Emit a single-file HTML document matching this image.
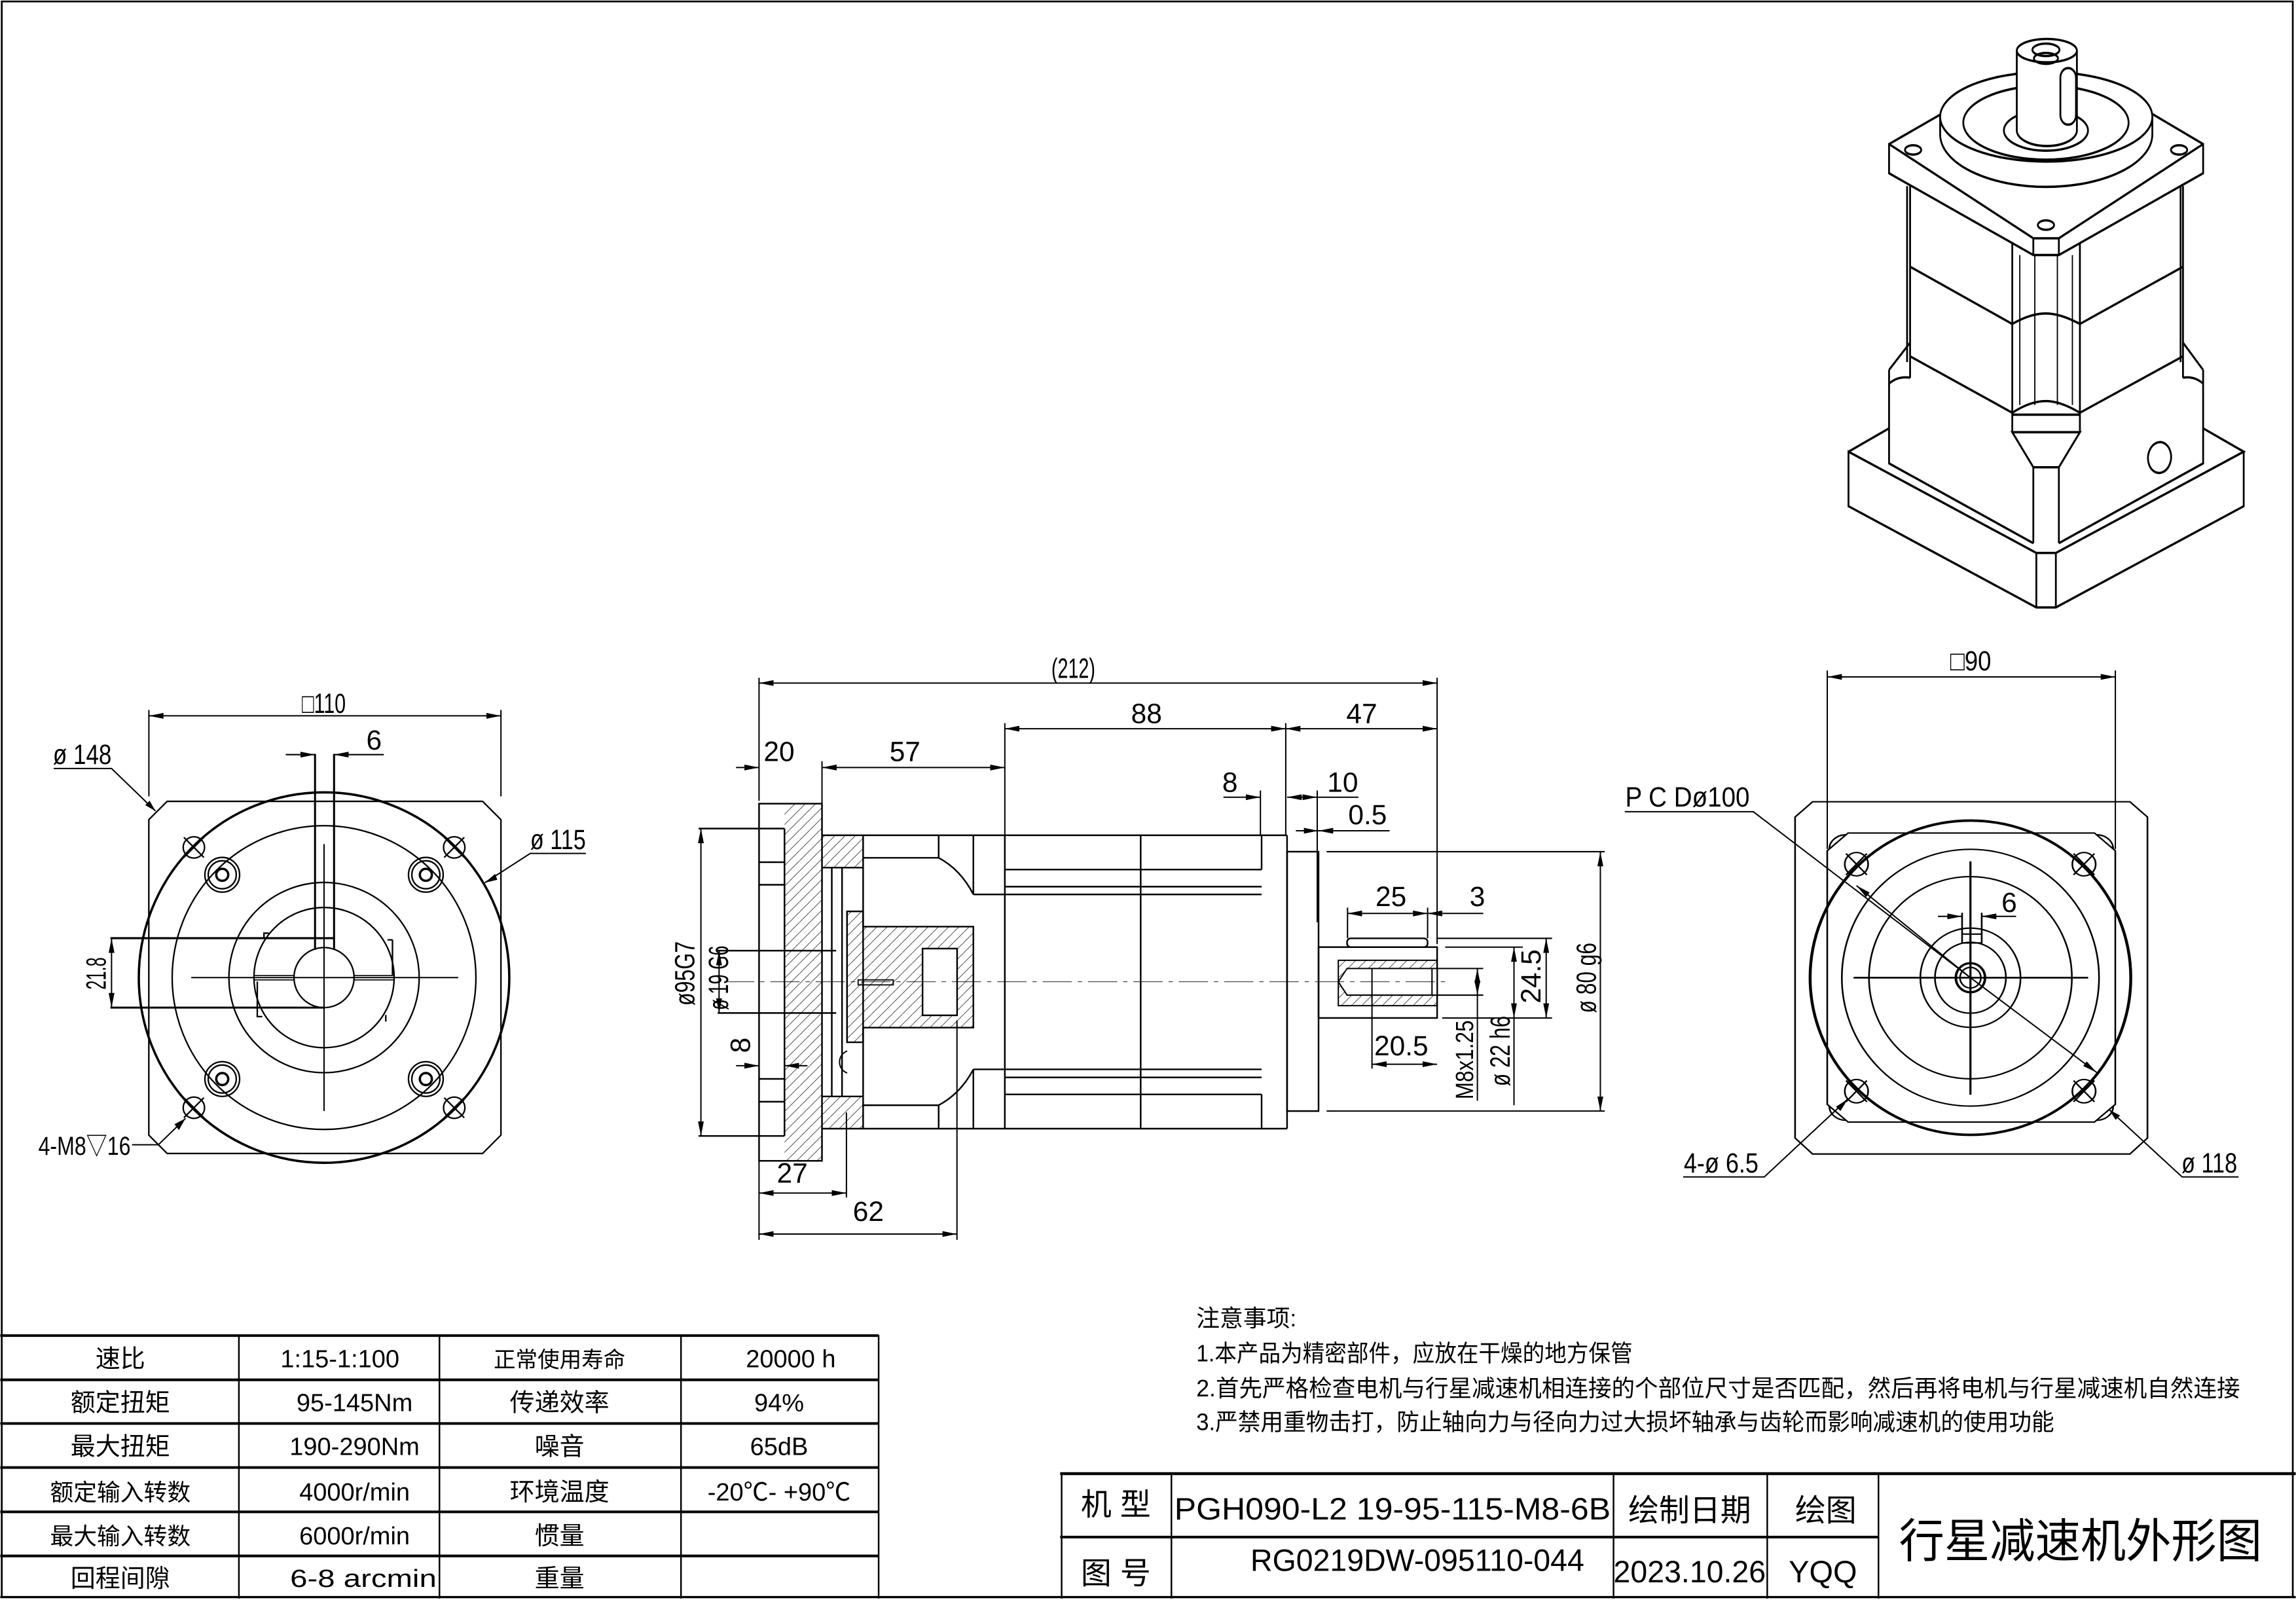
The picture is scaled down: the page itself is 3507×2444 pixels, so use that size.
<!DOCTYPE html>
<html><head><meta charset="utf-8"><style>
html,body{margin:0;padding:0;background:#fff}
svg{display:block}
text{font-family:"Liberation Sans","Noto Sans CJK SC",sans-serif;fill:#000}
</style></head><body>
<svg width="3507" height="2444" viewBox="0 0 1568 1093" xmlns="http://www.w3.org/2000/svg">
<defs>
<marker id="a" markerWidth="10" markerHeight="4" refX="10" refY="2" orient="auto-start-reverse" markerUnits="userSpaceOnUse"><path d="M0,0 L10,2 L0,4 Z" fill="#000"/></marker>
<pattern id="h" patternUnits="userSpaceOnUse" width="7" height="7"><path d="M0,7 L7,0" stroke="#000" stroke-width="0.3"/></pattern>
</defs>
<rect x="0" y="0" width="1568" height="1093" fill="#fff"/>
<rect x="1" y="1" width="1565" height="1090" fill="none" stroke="#000" stroke-width="1.2"/>

<!-- ========== LEFT VIEW (zoom coords) ========== -->
<g transform="translate(0,447.1) scale(0.228)" fill="none" stroke="#000" stroke-width="4.5">
<path d="M445,495 L500,440 L1445,440 L1500,495 L1500,1440 L1445,1495 L500,1495 L445,1440 Z"/>
<circle cx="970" cy="968" r="555" stroke-width="7"/>
<circle cx="970" cy="968" r="455"/>
<circle cx="970" cy="968" r="285"/>
<circle cx="970" cy="968" r="210"/>
<circle cx="970" cy="968" r="90"/>
<g>
<circle cx="665" cy="660" r="52"/><circle cx="665" cy="660" r="42"/><circle cx="665" cy="660" r="18" stroke-width="7"/>
<circle cx="1275" cy="660" r="52"/><circle cx="1275" cy="660" r="42"/><circle cx="1275" cy="660" r="18" stroke-width="7"/>
<circle cx="665" cy="1272" r="52"/><circle cx="665" cy="1272" r="42"/><circle cx="665" cy="1272" r="18" stroke-width="7"/>
<circle cx="1275" cy="1272" r="52"/><circle cx="1275" cy="1272" r="42"/><circle cx="1275" cy="1272" r="18" stroke-width="7"/>
</g>
<g>
<circle cx="580" cy="578" r="32"/><path d="M550,548 L610,608 M610,548 L550,608"/>
<circle cx="1360" cy="578" r="32"/><path d="M1330,548 L1390,608 M1390,548 L1330,608"/>
<circle cx="580" cy="1358" r="32"/><path d="M550,1328 L610,1388 M610,1328 L550,1388"/>
<circle cx="1360" cy="1358" r="32"/><path d="M1330,1328 L1390,1388 M1390,1328 L1330,1388"/>
</g>
<path d="M572,968 L1372,968 M970,568 L970,1368" stroke-width="4"/>
<path d="M943,298 L943,885 M1000,298 L1000,885" stroke-width="6"/>
<path d="M790,850 L790,835 L805,835 M770,980 L770,1085 L785,1085 M1175,855 L1175,960 M1155,1080 L1155,1100 M1160,855 L1175,855"/>
<path d="M760,962 L880,962 M760,975 L880,975 M1060,962 L1180,962 M1060,975 L1180,975" stroke-width="3"/>
<path d="M330,850 L1000,850 M330,1058 L970,1058" stroke-width="6"/>
</g>
<!-- left view dims -->
<g stroke="#000" stroke-width="0.9" fill="none">
<path d="M101.5,544 L101.5,485 M342,544 L342,485"/>
<line x1="101.5" y1="489" x2="342" y2="489" marker-start="url(#a)" marker-end="url(#a)"/>
<line x1="195" y1="515.5" x2="215" y2="515.5" marker-end="url(#a)"/>
<line x1="262" y1="515.5" x2="228" y2="515.5" marker-end="url(#a)"/>
<line x1="76" y1="641" x2="76" y2="688.3" marker-start="url(#a)" marker-end="url(#a)"/>
<polyline points="36.5,525 76,525 106,554" />
<line x1="90" y1="554" x2="106" y2="554" stroke="none"/>
<polyline points="90,782 108,782 126.5,764"/>
<polyline points="400,583 362,583 331,603"/>
</g>
<g fill="#000">
<path d="M106,554 L99,550 L102,547 Z"/>
<path d="M126.5,764 L119,768 L122,772 Z" transform="rotate(0)"/>
<path d="M331,603 L338,597 L339.5,601 Z"/>
</g>
<text x="221" y="487" font-size="19" text-anchor="middle" textLength="30" lengthAdjust="spacingAndGlyphs">□110</text>
<text x="36" y="522" font-size="19" textLength="40" lengthAdjust="spacingAndGlyphs">ø 148</text>
<text x="250" y="512" font-size="19">6</text>
<text x="362" y="580" font-size="19" textLength="38" lengthAdjust="spacingAndGlyphs">ø 115</text>
<text transform="translate(72,665) rotate(-90)" font-size="19" text-anchor="middle" textLength="22" lengthAdjust="spacingAndGlyphs">21.8</text>
<text x="26" y="789" font-size="18" textLength="63" lengthAdjust="spacingAndGlyphs">4-M8▽16</text>

<!-- ========== MIDDLE VIEW ========== -->
<g stroke="#000" stroke-width="1.1" fill="none">
<!-- hatched areas -->
<rect x="535.7" y="549" width="25.6" height="244" fill="url(#h)" stroke="none"/>
<rect x="561.3" y="570.6" width="28" height="22" fill="url(#h)" stroke="none"/>
<rect x="561.3" y="749" width="28" height="22" fill="url(#h)" stroke="none"/>
<polygon points="578.4,622.6 589.4,622.6 589.4,633 664.7,633 664.7,702 589.4,702 589.4,712 578.4,712" fill="url(#h)"/>
<rect x="630" y="648" width="23.6" height="45.6" fill="#fff"/>
<rect x="586" y="669.4" width="24" height="3.4" stroke-width="0.8"/>
<rect x="518.3" y="549" width="43" height="244"/>
<path d="M535.7,566 L535.7,776 M518.3,589 L535.7,589 M518.3,604.4 L535.7,604.4 M518.3,737 L535.7,737 M518.3,752.6 L535.7,752.6"/>
<path d="M477,566 L535.7,566 M477,776 L535.7,776"/>
<path d="M561.3,570.6 L879,570.6 M561.3,771 L879,771"/>
<path d="M561.3,592.7 L589.4,592.7 M561.3,749 L589.4,749 M568,592.7 L568,749 M575,592.7 L575,749"/>
<path d="M589.4,570.6 L589.4,771 M641,570.6 L641,586 M641,755 L641,771 M589.4,586 L641,586 M589.4,755 L641,755"/>
<path d="M641,586 Q656,594 664.7,611 M641,755 Q656,747 664.7,730.5"/>
<path d="M664.7,570.6 L664.7,611 M664.7,730.5 L664.7,771"/>
<path d="M686.2,570.6 L686.2,771 M779,570.6 L779,771 M861.6,570.6 L861.6,594 M861.6,747.6 L861.6,771 M879,570.6 L879,771"/>
<path d="M686.2,594 L861.6,594 M686.2,605.7 L861.6,605.7 M664.7,611 L861.6,611 M686.2,747.6 L861.6,747.6 M686.2,736 L861.6,736 M664.7,730.5 L861.6,730.5"/>
<rect x="879" y="581.8" width="21.5" height="177.2"/>
<rect x="900.5" y="647" width="81" height="48.4"/>
<rect x="920" y="641" width="55" height="6" rx="2.5"/>
<rect x="914" y="656" width="67.5" height="31" fill="url(#h)" stroke-width="0.9"/>
<path d="M981.5,661.6 L920,661.6 L914,670.7 L920,679.8 L981.5,679.8 Z" fill="#fff" stroke-width="0.9"/>
<path d="M937,661.6 L937,679.8 M978,661.6 L978,679.8" stroke-width="0.9"/>
<path d="M490,649.4 L571,649.4 M490,692 L571,692"/>
<path d="M578.5,718 A8,8 0 0 0 578.5,733" stroke-width="0.9"/>
</g>
<line x1="495" y1="670.7" x2="990" y2="670.7" stroke="#000" stroke-width="0.4" stroke-dasharray="20,4,3,4"/>
<!-- middle dims -->
<g stroke="#000" stroke-width="0.9" fill="none">
<path d="M518.3,463 L518.3,547 M981.5,463 L981.5,645 M686.2,494 L686.2,570 M878.1,494 L878.1,570 M561.3,520 L561.3,549"/>
<line x1="518.3" y1="466.6" x2="981.5" y2="466.6" marker-start="url(#a)" marker-end="url(#a)"/>
<line x1="686.2" y1="497.8" x2="878.1" y2="497.8" marker-start="url(#a)" marker-end="url(#a)"/>
<line x1="878.1" y1="497.8" x2="981.5" y2="497.8" marker-start="url(#a)" marker-end="url(#a)"/>
<line x1="502.6" y1="524.3" x2="518.3" y2="524.3" marker-end="url(#a)"/>
<line x1="561.3" y1="524.3" x2="686.2" y2="524.3" marker-start="url(#a)" marker-end="url(#a)"/>
<path d="M860.8,540 L860.8,570 M899.6,540 L899.6,630"/>
<line x1="835.5" y1="544.6" x2="860.8" y2="544.6" marker-end="url(#a)"/>
<line x1="879" y1="544.6" x2="899.6" y2="544.6" marker-start="url(#a)" marker-end="url(#a)"/>
<line x1="899.6" y1="544.6" x2="927.7" y2="544.6"/>
<line x1="885" y1="567.5" x2="900.5" y2="567.5" marker-end="url(#a)"/>
<line x1="949" y1="567.5" x2="900.5" y2="567.5" marker-end="url(#a)"/>
<path d="M906,581.8 L1096,581.8 M906,759 L1096,759"/>
<line x1="1093" y1="581.8" x2="1093" y2="759" marker-start="url(#a)" marker-end="url(#a)"/>
<path d="M920.3,620 L920.3,641 M975,620 L975,641"/>
<line x1="920.3" y1="624" x2="975" y2="624" marker-start="url(#a)" marker-end="url(#a)"/>
<line x1="1013" y1="624" x2="975" y2="624" marker-end="url(#a)"/>
<path d="M981,641 L1060,641 M985,695.4 L1060,695.4 M987,647 L1040,647 M981,661.6 L1013,661.6 M981,679.8 L1013,679.8"/>
<line x1="1056" y1="641" x2="1056" y2="695.4" marker-start="url(#a)" marker-end="url(#a)"/>
<line x1="1034" y1="647" x2="1034" y2="695.4" marker-start="url(#a)" marker-end="url(#a)"/>
<line x1="1034" y1="695" x2="1034" y2="755"/>
<line x1="1009" y1="661.6" x2="1009" y2="679.8" marker-start="url(#a)" marker-end="url(#a)"/>
<line x1="1009" y1="679" x2="1009" y2="752"/>
<path d="M937,680 L937,730"/>
<line x1="937" y1="727" x2="981.5" y2="727" marker-start="url(#a)" marker-end="url(#a)"/>
<line x1="478.6" y1="566" x2="478.6" y2="776" marker-start="url(#a)" marker-end="url(#a)"/>
<line x1="491" y1="649.4" x2="491" y2="692" marker-start="url(#a)" marker-end="url(#a)"/>
<line x1="502.6" y1="728" x2="518.3" y2="728" marker-end="url(#a)"/>
<line x1="551.4" y1="728" x2="535.7" y2="728" marker-end="url(#a)"/>
<path d="M518.3,793 L518.3,847 M578,760 L578,818 M653.5,697 L653.5,847"/>
<line x1="518.3" y1="815" x2="578" y2="815" marker-start="url(#a)" marker-end="url(#a)"/>
<line x1="518.3" y1="843" x2="653.5" y2="843" marker-start="url(#a)" marker-end="url(#a)"/>
</g>
<g font-size="19">
<text x="733" y="463" text-anchor="middle" textLength="30" lengthAdjust="spacingAndGlyphs">(212)</text>
<text x="783" y="494" text-anchor="middle">88</text>
<text x="930" y="494" text-anchor="middle">47</text>
<text x="532" y="520" text-anchor="middle">20</text>
<text x="618" y="520" text-anchor="middle">57</text>
<text x="840" y="541" text-anchor="middle">8</text>
<text x="917" y="541" text-anchor="middle">10</text>
<text x="934" y="563" text-anchor="middle">0.5</text>
<text x="950" y="619" text-anchor="middle">25</text>
<text x="1009" y="619" text-anchor="middle">3</text>
<text x="957" y="721" text-anchor="middle">20.5</text>
<text x="541" y="808" text-anchor="middle">27</text>
<text x="593" y="834" text-anchor="middle">62</text>
<text transform="translate(1052,667) rotate(-90)" text-anchor="middle">24.5</text>
<text transform="translate(1031,718) rotate(-90)" text-anchor="middle" textLength="48" lengthAdjust="spacingAndGlyphs">ø 22 h6</text>
<text transform="translate(1006,724) rotate(-90)" text-anchor="middle" font-size="17" textLength="54" lengthAdjust="spacingAndGlyphs">M8x1.25</text>
<text transform="translate(1090,668) rotate(-90)" text-anchor="middle" textLength="48" lengthAdjust="spacingAndGlyphs">ø 80 g6</text>
<text transform="translate(474,665) rotate(-90)" text-anchor="middle" textLength="44" lengthAdjust="spacingAndGlyphs">ø95G7</text>
<text transform="translate(497,668) rotate(-90)" text-anchor="middle" textLength="44" lengthAdjust="spacingAndGlyphs">ø 19 G6</text>
<text transform="translate(512,714) rotate(-90)" text-anchor="middle">8</text>
</g>

<!-- ========== RIGHT VIEW ========== -->
<g transform="translate(1095.4,438.2) scale(0.2852,0.2423)" fill="none" stroke="#000" stroke-width="4">
<path d="M458,495 L500,452 L1260,452 L1302,495 L1302,1400 L1260,1445 L500,1445 L458,1400 Z"/>
<path d="M535,590 L585,540 L1175,540 L1225,590 L1225,1305 L1175,1355 L585,1355 L535,1305 Z"/>
<path d="M580,545 A40,40 0 0 0 540,585 M1180,545 A40,40 0 0 1 1220,585 M540,1310 A40,40 0 0 0 580,1350 M1220,1310 A40,40 0 0 1 1180,1350"/>
<ellipse cx="878" cy="948" rx="384" ry="443" stroke-width="7"/>
<ellipse cx="878" cy="948" rx="308" ry="362"/>
<ellipse cx="878" cy="948" rx="243" ry="285"/>
<ellipse cx="878" cy="948" rx="120" ry="140"/>
<ellipse cx="878" cy="948" rx="85" ry="100"/>
<ellipse cx="878" cy="948" rx="35" ry="41" stroke-width="6"/>
<ellipse cx="878" cy="948" rx="25" ry="29"/>
<g>
<ellipse cx="605" cy="628" rx="28" ry="33"/><path d="M580,598 L630,658 M630,598 L580,658"/>
<ellipse cx="1150" cy="628" rx="28" ry="33"/><path d="M1125,598 L1175,658 M1175,598 L1125,658"/>
<ellipse cx="605" cy="1268" rx="28" ry="33"/><path d="M580,1238 L630,1298 M630,1238 L580,1298"/>
<ellipse cx="1150" cy="1268" rx="28" ry="33"/><path d="M1125,1238 L1175,1298 M1175,1238 L1125,1298"/>
</g>
<path d="M598,948 L1160,948 M878,620 L878,1278" stroke-width="5"/>
<rect x="858" y="825" width="47" height="25"/>
<path d="M858,765 L858,825 M905,765 L905,825"/>
</g>
<g stroke="#000" stroke-width="0.9" fill="none">
<path d="M1248,458 L1248,580 M1444.8,458 L1444.8,580"/>
<line x1="1248" y1="462.4" x2="1444.8" y2="462.4" marker-start="url(#a)" marker-end="url(#a)"/>
<line x1="1323.6" y1="626" x2="1340" y2="626" marker-end="url(#a)"/>
<line x1="1377" y1="626" x2="1353.5" y2="626" marker-end="url(#a)"/>
<polyline points="1109.7,554.5 1197.5,554.5 1345.8,667.9"/>
<line x1="1345.8" y1="667.9" x2="1268" y2="605" marker-end="url(#a)"/>
<line x1="1345.8" y1="667.9" x2="1432" y2="732.6" marker-end="url(#a)"/>
<polyline points="1149.6,804 1205,804 1262,750.8"/>
<polyline points="1529,804 1490.4,804 1440.5,758"/>
</g>
<g fill="#000">
<path d="M1262,750.8 L1257,759 L1254,756 Z"/>
<path d="M1440.5,758 L1448,762 L1445,765 Z"/>
</g>
<text x="1346" y="458" font-size="19" text-anchor="middle" textLength="28" lengthAdjust="spacingAndGlyphs">□90</text>
<text x="1110" y="551" font-size="19" textLength="85" lengthAdjust="spacingAndGlyphs">P C Dø100</text>
<text x="1367" y="623" font-size="19">6</text>
<text x="1150" y="801" font-size="19" textLength="51" lengthAdjust="spacingAndGlyphs">4-ø 6.5</text>
<text x="1490" y="801" font-size="19" textLength="38" lengthAdjust="spacingAndGlyphs">ø 118</text>

<!-- ========== ISO VIEW (zoom coords) ========== -->
<g transform="translate(1243,0) scale(0.2053,0.266)" fill="none" stroke="#000" stroke-width="6">
<!-- base plate -->
<path d="M95,1160 L230,1100 M1275,1100 L1410,1160 L785,1420 L720,1420 L95,1160 L95,1300 L720,1560 L785,1560 L1410,1300 L1410,1160"/>
<path d="M720,1420 L720,1560 M785,1420 L785,1560"/>
<!-- lower housing -->
<path d="M230,950 L230,1190 L710,1395 M795,1395 L1275,1190 L1275,950"/>
<path d="M300,880 L230,950 M1208,880 L1275,950 M230,985 Q260,965 300,970 M1275,985 Q1245,965 1208,970"/>
<path d="M640,1110 L865,1110 L795,1200 L710,1200 Z M710,1200 L710,1395 M795,1200 L795,1395 M640,1065 L865,1065"/>
<ellipse cx="1130" cy="1175" rx="38" ry="40" transform="rotate(30 1130 1175)"/>
<!-- body -->
<path d="M300,478 L300,970 M290,478 L290,930 M1208,478 L1208,970 M1200,478 L1200,930"/>
<path d="M640,625 L640,1110 M865,625 L865,1110"/>
<path d="M665,655 L665,1040 M715,655 L715,1040 M790,655 L790,1040 M840,655 L840,1040" stroke-width="4"/>
<path d="M300,685 L640,832 Q700,805 752,805 Q800,805 865,832 L1208,685"/>
<path d="M300,915 L640,1060 Q700,1030 752,1030 Q800,1030 865,1060 L1208,915"/>
<!-- plate -->
<path d="M230,405 L230,370 L410,290 M1100,290 L1275,370 L1275,445 L795,655 L710,655 L230,445 L230,370"/>
<path d="M230,370 L710,612 L795,612 L1275,370 M710,612 L710,655 M795,612 L795,655"/>
<ellipse cx="310" cy="385" rx="27" ry="12"/>
<ellipse cx="1195" cy="385" rx="27" ry="12"/>
<ellipse cx="752" cy="578" rx="27" ry="12"/>
<!-- flange -->
<path d="M400,300 L400,345 A353,135 0 0 0 1106,345 L1106,300" fill="#fff"/>
<ellipse cx="753" cy="300" rx="353" ry="115" fill="#fff"/>
<ellipse cx="752" cy="315" rx="275" ry="95"/>
<ellipse cx="752" cy="335" rx="140" ry="52"/>
<!-- shaft -->
<path d="M655,130 L655,335 A100,40 0 0 0 855,335 L855,130" fill="#fff"/>
<ellipse cx="755" cy="130" rx="100" ry="30" fill="#fff"/>
<ellipse cx="752" cy="128" rx="45" ry="16"/>
<ellipse cx="752" cy="150" rx="40" ry="14"/>
<rect x="800" y="175" width="52" height="145" rx="25"/>
</g>

<!-- ========== TABLE ========== -->
<g stroke="#000" fill="none">
<path d="M0,912.4 L600,912.4 M0,942.6 L600,942.6 M0,972.4 L600,972.4 M0,1002.5 L600,1002.5 M0,1032.8 L600,1032.8 M0,1062.9 L600,1062.9" stroke-width="1.8"/>
<path d="M163,912 L163,1092 M300,912 L300,1092 M465,912 L465,1092 M600,912 L600,1092" stroke-width="1.1"/>
</g>
<g font-size="17" text-anchor="middle">
<text x="82" y="934">速比</text><text x="232" y="934">1:15-1:100</text><text x="382" y="934" font-size="15">正常使用寿命</text><text x="540" y="934">20000 h</text>
<text x="82" y="964">额定扭矩</text><text x="242" y="964">95-145Nm</text><text x="382" y="964">传递效率</text><text x="532" y="964">94%</text>
<text x="82" y="994">最大扭矩</text><text x="242" y="994">190-290Nm</text><text x="382" y="994">噪音</text><text x="532" y="994">65dB</text>
<text x="82" y="1025" font-size="16">额定输入转数</text><text x="242" y="1025">4000r/min</text><text x="382" y="1025">环境温度</text><text x="532" y="1025">-20℃- +90℃</text>
<text x="82" y="1055" font-size="16">最大输入转数</text><text x="242" y="1055">6000r/min</text><text x="382" y="1055">惯量</text>
<text x="82" y="1084">回程间隙</text><text x="248" y="1084" textLength="100" lengthAdjust="spacingAndGlyphs">6-8 arcmin</text><text x="382" y="1084">重量</text>
</g>

<!-- ========== NOTES ========== -->
<g font-size="16">
<text x="817" y="906">注意事项:</text>
<text x="817" y="930" textLength="298" lengthAdjust="spacingAndGlyphs">1.本产品为精密部件，应放在干燥的地方保管</text>
<text x="817" y="954" textLength="713" lengthAdjust="spacingAndGlyphs">2.首先严格检查电机与行星减速机相连接的个部位尺寸是否匹配，然后再将电机与行星减速机自然连接</text>
<text x="817" y="977" textLength="586" lengthAdjust="spacingAndGlyphs">3.严禁用重物击打，防止轴向力与径向力过大损坏轴承与齿轮而影响减速机的使用功能</text>
</g>

<!-- ========== TITLE BLOCK ========== -->
<g stroke="#000" fill="none">
<path d="M724,1006.7 L1568,1006.7" stroke-width="2"/>
<path d="M724,1050 L1283,1050" stroke-width="1.8"/>
<path d="M725,1006 L725,1092 M800,1006 L800,1092 M1102,1006 L1102,1092 M1207,1006 L1207,1092 M1283,1006 L1283,1092" stroke-width="1.1"/>
<path d="M0,1091 L1568,1091" stroke-width="1.5"/>
</g>
<g font-size="21" text-anchor="middle">
<text x="762" y="1035">机 型</text>
<text x="951" y="1038" textLength="298" lengthAdjust="spacingAndGlyphs">PGH090-L2 19-95-115-M8-6B</text>
<text x="1154" y="1039">绘制日期</text>
<text x="1247" y="1039">绘图</text>
<text x="762" y="1082">图 号</text>
<text x="968" y="1073" textLength="228" lengthAdjust="spacingAndGlyphs">RG0219DW-095110-044</text>
<text x="1154" y="1081" textLength="104" lengthAdjust="spacingAndGlyphs">2023.10.26</text>
<text x="1245" y="1081">YQQ</text>
<text x="1421" y="1064" font-size="32" textLength="248" lengthAdjust="spacingAndGlyphs">行星减速机外形图</text>
</g>
</svg>
</body></html>
